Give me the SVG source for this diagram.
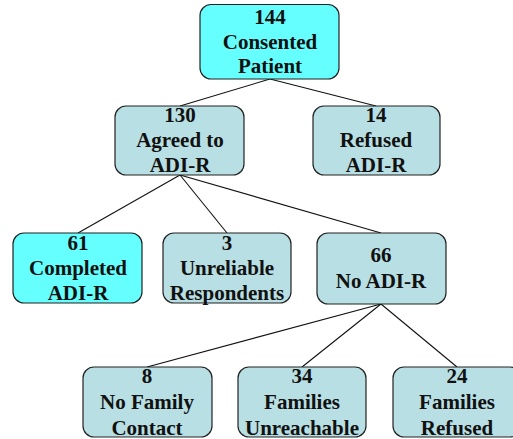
<svg xmlns="http://www.w3.org/2000/svg" width="513" height="439" viewBox="0 0 513 439">
<style>
.n rect{stroke:#222;stroke-width:1.2}
.c{fill:#66FFFF}
.b{fill:#B8DFE3}
text{font-weight:bold;font-size:21px;fill:#111;text-anchor:middle}
#edges line{stroke:#111;stroke-width:1.1}
</style>
<rect width="513" height="439" fill="#fff"/>
<g id="edges">
<line x1="270" y1="79" x2="180" y2="106"/>
<line x1="270" y1="79" x2="376" y2="106"/>
<line x1="180" y1="175" x2="78" y2="233"/>
<line x1="180" y1="175" x2="227" y2="233"/>
<line x1="180" y1="175" x2="381" y2="233"/>
<line x1="381" y1="304" x2="147" y2="367"/>
<line x1="381" y1="304" x2="302" y2="367"/>
<line x1="381" y1="304" x2="457" y2="367"/>
</g>
<g font-family="Liberation Serif, Times New Roman, serif">
<g id="n144" class="n"><rect class="c" x="200" y="4.5" width="139" height="74.5" rx="11"/><text x="270" y="24">144</text><text x="270" y="49">Consented</text><text x="270" y="73">Patient</text></g>
<g id="n130" class="n"><rect class="b" x="115" y="106" width="129" height="69" rx="11"/><text x="180" y="122">130</text><text x="180" y="147">Agreed to</text><text x="180" y="172">ADI-R</text></g>
<g id="n14" class="n"><rect class="b" x="313" y="106" width="127" height="69" rx="11"/><text x="376" y="122">14</text><text x="376" y="147">Refused</text><text x="376" y="172">ADI-R</text></g>
<g id="n61" class="n"><rect class="c" x="13" y="233" width="129" height="70" rx="11"/><text x="78" y="250">61</text><text x="78" y="275">Completed</text><text x="78" y="300">ADI-R</text></g>
<g id="n3" class="n"><rect class="b" x="163" y="233" width="128" height="70" rx="11"/><text x="227" y="250">3</text><text x="227" y="275">Unreliable</text><text x="227" y="300">Respondents</text></g>
<g id="n66" class="n"><rect class="b" x="317" y="233" width="129" height="71" rx="11"/><text x="381" y="262">66</text><text x="381" y="288">No ADI-R</text></g>
<g id="n8" class="n"><rect class="b" x="83" y="367" width="129" height="70" rx="11"/><text x="147" y="383">8</text><text x="147" y="409">No Family</text><text x="147" y="435">Contact</text></g>
<g id="n34" class="n"><rect class="b" x="238" y="367" width="128" height="70" rx="11"/><text x="302" y="383">34</text><text x="302" y="409">Families</text><text x="302" y="435">Unreachable</text></g>
<g id="n24" class="n"><rect class="b" x="393" y="367" width="128" height="70" rx="11"/><text x="457" y="383">24</text><text x="457" y="409">Families</text><text x="457" y="435">Refused</text></g>
</g>
</svg>
